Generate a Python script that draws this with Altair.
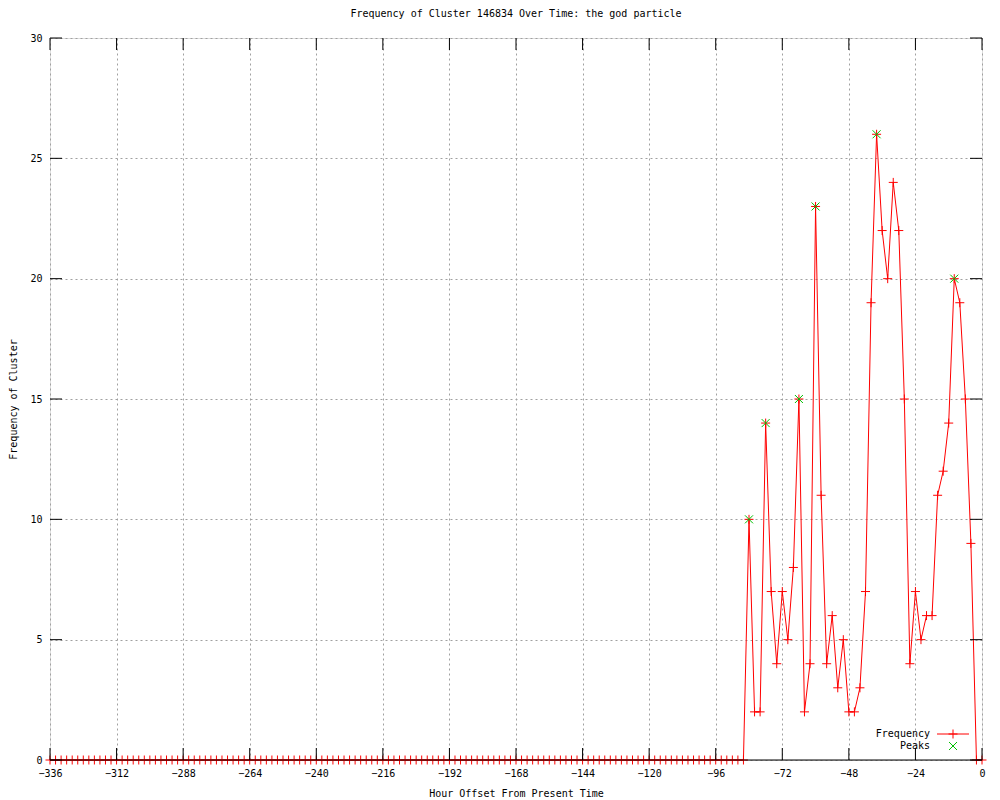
import altair as alt
import pandas as pd

# ---- data ----
hours = list(range(-336, 1, 2))
freq_idle = [0] * 126          # -336 .. -86 : all zero
freq_active = [10, 2, 2, 14, 7, 4, 7, 5, 8, 15, 2, 4, 23, 11, 4, 6, 3, 5, 2, 2,
               3, 7, 19, 26, 22, 20, 24, 22, 15, 4, 7, 5, 6, 6, 11, 12, 14, 20,
               19, 15, 9, 0, 0]  # -84 .. 0
freq = freq_idle + freq_active

peak_hours = [-84, -78, -66, -60, -38, -10]
peak_values = [10, 14, 15, 23, 26, 20]

x_ticks = list(range(-336, 1, 24))
y_ticks = [0, 5, 10, 15, 20, 25, 30]

title_text = "Frequency of Cluster 146834 Over Time: the god particle"
x_title = "Hour Offset From Present Time"
y_title = "Frequency of Cluster"
legend_labels = ["Frequency", "Peaks"]

df = pd.DataFrame({"hour": hours, "freq": freq})
peaks = pd.DataFrame({"hour": peak_hours, "freq": peak_values})
xt = pd.DataFrame({"hour": x_ticks})
yt = pd.DataFrame({"freq": y_ticks})

W, H = 932, 722
FONT = "DejaVu Sans Mono"
PLUS = "M-1,0L1,0M0,-1L0,1"
XSHAPE = "M-1,-1L1,1M-1,1L1,-1"
GREEN = "#00c000"

xscale = alt.Scale(domain=[-336, 0], nice=False, zero=False)
yscale = alt.Scale(domain=[0, 30], nice=False)

xaxis = alt.Axis(values=x_ticks, title=x_title, grid=True, gridDash=[2, 3],
                 gridColor="#a0a0a0", gridOpacity=1, ticks=False, domain=False,
                 labelPadding=8, labelFont=FONT, labelFontSize=10, labelColor="black",
                 titleFont=FONT, titleFontSize=10, titleFontWeight="normal",
                 titleColor="black", titleX=W / 2, titleY=33, titleBaseline="middle",
                 titleAlign="center", labelFlush=False, labelOverlap=False)
yaxis = alt.Axis(values=y_ticks, title=y_title, grid=True, gridDash=[2, 3],
                 gridColor="#a0a0a0", gridOpacity=1, ticks=False, domain=False,
                 labelPadding=8, labelFont=FONT, labelFontSize=10, labelColor="black",
                 titleFont=FONT, titleFontSize=10, titleFontWeight="normal",
                 titleColor="black", titleX=-37, titleY=H / 2, titleBaseline="middle",
                 titleAlign="center", titleAngle=-90, labelFlush=False)

base = alt.Chart(df)
line = base.mark_line(color="red", strokeWidth=1).encode(
    x=alt.X("hour:Q", scale=xscale, axis=xaxis),
    y=alt.Y("freq:Q", scale=yscale, axis=yaxis),
)
pts = base.mark_point(shape=PLUS, color="red", size=81, strokeWidth=1,
                      filled=False, opacity=1).encode(
    x=alt.X("hour:Q", scale=xscale), y=alt.Y("freq:Q", scale=yscale))
pk = alt.Chart(peaks).mark_point(shape=XSHAPE, color=GREEN, size=64, strokeWidth=1,
                                 filled=False, opacity=1).encode(
    x=alt.X("hour:Q", scale=xscale), y=alt.Y("freq:Q", scale=yscale))

TL = 12
xt_bot = alt.Chart(xt).mark_rule(color="black", strokeWidth=1).encode(
    x=alt.X("hour:Q", scale=xscale), y=alt.value(H), y2=alt.value(H - TL))
xt_top = alt.Chart(xt).mark_rule(color="black", strokeWidth=1).encode(
    x=alt.X("hour:Q", scale=xscale), y=alt.value(0), y2=alt.value(TL))
yt_left = alt.Chart(yt).mark_rule(color="black", strokeWidth=1).encode(
    y=alt.Y("freq:Q", scale=yscale), x=alt.value(0), x2=alt.value(TL))
yt_right = alt.Chart(yt).mark_rule(color="black", strokeWidth=1).encode(
    y=alt.Y("freq:Q", scale=yscale), x=alt.value(W), x2=alt.value(W - TL))
# bottom border drawn over the data (as gnuplot does)
bottom_border = alt.Chart(yt).transform_filter(alt.datum.freq == 0).mark_rule(
    color="black", strokeWidth=1).encode(
    y=alt.Y("freq:Q", scale=yscale), x=alt.value(0), x2=alt.value(W))

# legend (inside, bottom right)
leg_df = pd.DataFrame({"label": legend_labels})
leg_text = alt.Chart(leg_df).transform_filter(alt.datum.label == "Frequency").mark_text(
    align="right", baseline="middle", font=FONT, fontSize=10, color="black").encode(
    text="label:N", x=alt.value(880), y=alt.value(696))
leg_text2 = alt.Chart(leg_df).transform_filter(alt.datum.label == "Peaks").mark_text(
    align="right", baseline="middle", font=FONT, fontSize=10, color="black").encode(
    text="label:N", x=alt.value(880), y=alt.value(708))
leg_line = alt.Chart(leg_df).transform_filter(alt.datum.label == "Frequency").mark_rule(
    color="red", strokeWidth=1).encode(x=alt.value(887), x2=alt.value(919), y=alt.value(696))
leg_plus = alt.Chart(leg_df).transform_filter(alt.datum.label == "Frequency").mark_point(
    shape=PLUS, color="red", size=81, strokeWidth=1, filled=False, opacity=1).encode(
    x=alt.value(903), y=alt.value(696))
leg_x = alt.Chart(leg_df).transform_filter(alt.datum.label == "Peaks").mark_point(
    shape=XSHAPE, color=GREEN, size=64, strokeWidth=1, filled=False, opacity=1).encode(
    x=alt.value(903), y=alt.value(708))

chart = alt.layer(
    line, pts, pk, bottom_border, xt_bot, xt_top, yt_left, yt_right,
    leg_text, leg_text2, leg_line, leg_plus, leg_x
).properties(
    width=W, height=H,
    title=alt.TitleParams(title_text, font=FONT, fontSize=10, fontWeight="normal",
                          color="black", anchor="middle", offset=14),
    autosize=alt.AutoSizeParams(type="none"),
    padding={"left": 42, "top": 30, "right": 10, "bottom": 40},
).configure_view(
    stroke="black", strokeWidth=1, fill="white"
).configure(background="white")

chart.save("out.html", embed_options={"renderer": "svg", "actions": False})
